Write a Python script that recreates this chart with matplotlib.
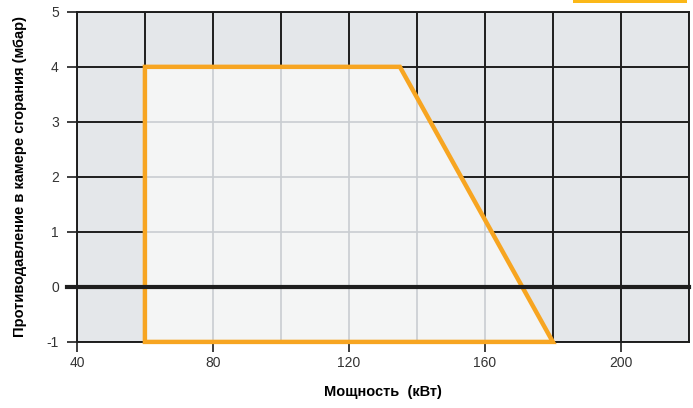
import matplotlib as mpl
mpl.rcParams["font.family"] = ["Liberation Sans", "DejaVu Sans"]
import matplotlib.pyplot as plt
from matplotlib.patches import Polygon, Rectangle

# working field of the burner (power kW, back pressure mbar)
field_kw = [60, 60, 135, 180]
field_mbar = [-1, 4, 4, -1]

x_ticks = [40, 80, 120, 160, 200]
y_ticks = [-1, 0, 1, 2, 3, 4, 5]
x_grid = [40, 60, 80, 100, 120, 140, 160, 180, 200, 220]

orange = "#f7a521"
dark = "#1e1e1e"

fig = plt.figure(figsize=(6.93, 4.08), dpi=100)
ax = fig.add_axes([0.111, 0.162, 0.883, 0.809])
ax.set_facecolor("#e4e7ea")
ax.set_xlim(40, 220)
ax.set_ylim(-1, 5)

# dark grid outside the field
for gx in x_grid:
    ax.axvline(gx, color=dark, lw=1.4, zorder=1)
for gy in y_ticks:
    ax.axhline(gy, color=dark, lw=1.4, zorder=1)

pts = list(zip(field_kw, field_mbar))
fill = Polygon(pts, closed=True, facecolor="#f4f5f5", edgecolor="none", zorder=2)
ax.add_patch(fill)

# light grid inside the field
for gx in x_grid:
    ln = ax.axvline(gx, color="#c9cdd2", lw=1.2, zorder=3)
    ln.set_clip_path(fill)
for gy in y_ticks:
    ln = ax.axhline(gy, color="#c9cdd2", lw=1.2, zorder=3)
    ln.set_clip_path(fill)

ax.add_patch(Polygon(pts, closed=True, facecolor="none", edgecolor=orange,
                     lw=3.2, joinstyle="miter", zorder=4, clip_on=False))

ax.axhline(0, xmin=-0.017, xmax=1, color=dark, lw=3, zorder=5, clip_on=False)

for s in ax.spines.values():
    s.set_color(dark)
    s.set_linewidth(1.4)

ax.set_xticks(x_ticks)
ax.set_yticks(y_ticks)
ax.set_yticklabels([str(v) for v in y_ticks])
ax.tick_params(axis="both", direction="out", length=7, width=1.2, color=dark,
               labelsize=10, labelcolor="#333333")
ax.tick_params(axis="x", pad=3)
ax.tick_params(axis="y", pad=6)

ax.set_xlabel("Мощность  (кВт)", fontsize=10.5, fontweight="bold", labelpad=11)
ax.set_ylabel("Противодавление в камере сгорания (мбар)", fontsize=10.5,
              fontweight="bold", labelpad=14)

# cut-off legend swatch at the top right
fig.patches.append(Rectangle((573 / 693, 1 - 3 / 408), 114 / 693, 3 / 408,
                             transform=fig.transFigure, facecolor="#fbb818",
                             edgecolor="none"))

fig.savefig("out.png", dpi=100)
